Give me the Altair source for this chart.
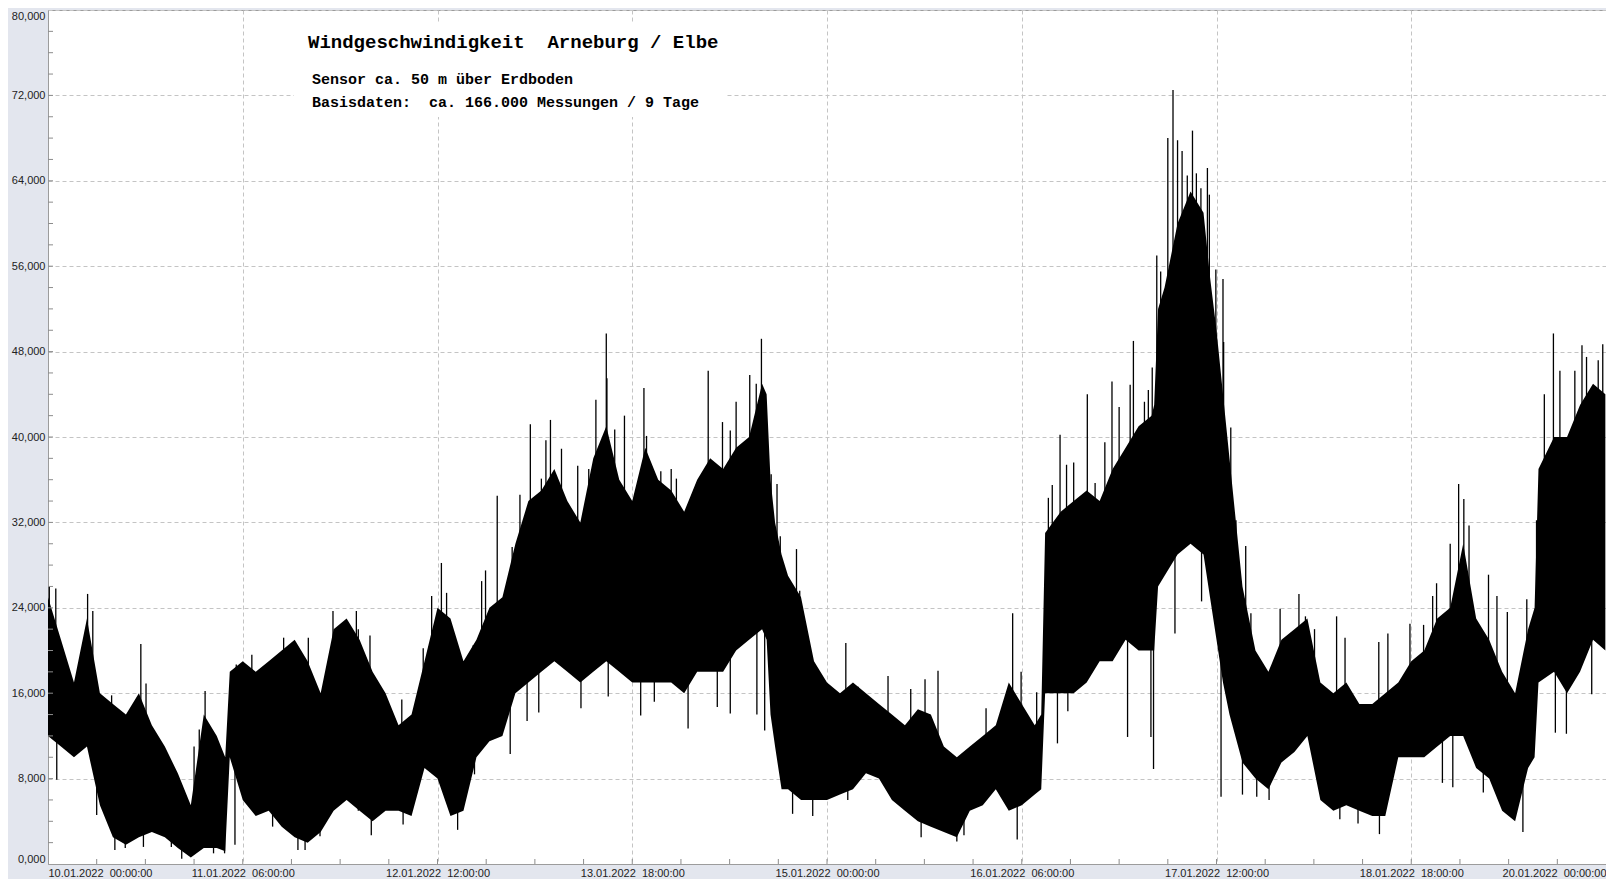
import altair as alt
import pandas as pd
import numpy as np

# ---- envelope of the dense measurement band (hours since 10.01.2022 00:00, km/h)
HOURS = [0, 2, 4, 6, 8, 10, 12, 14, 16, 18, 20, 22, 24, 26, 27.3, 28, 30, 32, 34, 36, 38,
         40, 42, 44, 46, 48, 50, 52, 54, 56, 58, 60, 62, 64, 66, 68, 70, 72, 74, 76, 78,
         80, 82, 84, 86, 88, 90, 92, 94, 96, 98, 100, 102, 104, 106, 108, 110, 110.7, 111.3,
         112, 113, 114, 116, 118, 120, 122, 124, 126, 128, 130, 132, 134, 136, 138, 140,
         142, 144, 146, 148, 150, 152, 153, 153.6, 156, 158, 160, 162, 164, 166, 168, 170,
         170.4, 171, 172, 174, 176, 178, 179, 180, 181, 182, 184, 186, 188, 190, 192, 194,
         196, 198, 200, 202, 204, 206, 208, 210, 212, 214, 216, 218, 220, 222, 224, 226, 228,
         229, 229.6, 232, 234, 236, 238, 239.9]
HI = [25, 21, 17, 23, 16, 15, 14, 16, 13, 11, 8.5, 5.5, 14, 12, 10, 18, 19, 18, 19, 20, 21,
      19, 16, 22, 23, 21, 18, 16, 13, 14, 19, 24, 23, 19, 21, 24, 25, 30, 34, 35, 37,
      34, 32, 38, 41, 36, 34, 39, 36, 35, 33, 36, 38, 37, 39, 40, 45, 44, 36,
      32, 29, 27, 25, 19, 17, 16, 17, 16, 15, 14, 13, 14.5, 14, 11, 10,
      11, 12, 13, 17, 15, 13, 14, 31, 33, 34, 35, 34, 37, 39, 41, 42,
      43, 52, 54, 60, 63, 61, 55, 50, 44, 38, 26, 20, 18, 21, 22, 23,
      17, 16, 17, 15, 15, 16, 17, 19, 20, 23, 24, 30, 23, 21, 18, 16, 22,
      24, 37, 40, 40, 43, 45, 44]
LO = [12, 11, 10, 11, 5.5, 2.5, 1.8, 2.5, 3, 2.5, 1.5, 0.6, 1.5, 1.5, 1.2, 10, 6, 4.5, 5, 3.5, 2.5,
      2, 3, 5, 6, 5, 4, 5, 5, 4.5, 9, 8, 4.5, 5, 10, 11.5, 12, 16, 17, 18, 19,
      18, 17, 18, 19, 18, 17, 17, 17, 17, 16, 18, 18, 18, 20, 21, 22, 21, 14,
      11, 7, 7, 6, 6, 6, 6.5, 7, 8.5, 8, 6, 5, 4, 3.5, 3, 2.5,
      5, 5.5, 7, 5, 5.5, 6.5, 7, 16, 16, 16, 17, 19, 19, 21, 20, 20,
      20, 26, 27, 29, 30, 29, 25, 21, 17, 14, 9.5, 8, 7, 9.5, 10.5, 12,
      6, 5, 5.5, 5, 4.5, 4.5, 10, 10, 10, 11, 12, 12, 9, 8, 5, 4, 9,
      10, 17, 18, 16, 18, 21, 20]

# ---- single upward spikes (hour, km/h)
UP_T = [0.2, 1.2, 6.1, 6.9, 9.8, 14.3, 15.1, 22.5, 23.3, 24.2, 29.0, 31.4, 36.3, 40.1, 43.9, 46.0, 47.5,
        47.8, 49.6, 54.5, 57.8, 59.1, 60.6, 61.4, 65.5, 66.8, 67.4, 69.2, 71.5, 72.7, 74.3, 76.0,
        76.7, 77.4, 79.1, 81.6, 83.3, 84.4, 86.0, 86.1, 87.3, 88.8, 91.8, 92.2, 94.4, 96.0,
        96.8, 99.9, 101.7, 103.9, 105.1, 106.0, 106.9, 108.1, 109.1, 109.9, 111.4, 112.3, 112.8,
        115.3, 115.8, 116.8, 118.6, 122.9, 124.8, 129.4, 132.9, 135.1, 137.1, 144.5,
        148.6, 149.9, 152.3, 154.1, 154.7, 155.9, 156.9, 158.0, 160.1, 161.3, 162.8, 163.9, 165.0,
        166.7, 167.2, 168.9, 169.5, 170.1, 170.8, 171.4, 172.5, 173.3, 174.0, 174.7, 175.5, 176.3,
        176.9, 177.6, 178.6, 178.9, 179.9, 181.0, 181.1, 182.2, 183.0, 184.5, 185.3, 189.8, 192.7,
        193.7, 195.1, 198.5, 199.8, 205.0, 206.4, 209.8, 211.9, 213.3, 213.9, 216.0, 217.3, 218.1,
        218.9, 221.9, 223.2, 224.8, 227.8, 229.3, 230.5, 231.9, 232.9, 235.2, 236.3, 237.0, 238.8, 239.5]
UP_V = [26, 25.8, 25.3, 23.7, 15.8, 20.6, 16.9, 11, 12.6, 16.2, 18.7, 19.6, 21.2, 21.2, 23.7, 22.3, 23.7,
        22, 21.4, 15.4, 20.2, 25.1, 28.2, 25.4, 20.5, 26.5, 27.5, 34.5, 29.7, 34.6, 41.2, 36.1,
        39.7, 41.6, 38.9, 37.3, 37, 43.5, 49.7, 45.5, 40.7, 42, 44.6, 40.1, 36.8, 37,
        36.1, 35.6, 46.2, 41.4, 40.6, 43.3, 39, 45.8, 45, 49.2, 36.5, 35.6, 30.7,
        29.5, 25.6, 20.7, 17.4, 20.7, 16.6, 17.6, 16.4, 17.3, 18.1, 14.6,
        23.5, 18, 16.1, 34.3, 35.5, 40.2, 37.4, 37.6, 44, 35.7, 39.5, 45.2, 42.8,
        44.9, 49, 43.3, 44.4, 46.5, 57, 55.5, 68, 72.5, 67.8, 66.8, 64.5, 68.7,
        64.7, 63.3, 65.2, 62.7, 55.7, 54.8, 48.9, 40.9, 32.2, 29.8, 23.5, 23.9, 25.3,
        23.2, 22, 23.2, 21.2, 20.8, 21.6, 22.5, 22.4, 25.1, 26.3, 30, 35.6, 34.2,
        31.7, 27.1, 25.1, 23.6, 24.8, 32.2, 44, 49.7, 46.2, 46.2, 48.6, 47.5, 47.2, 48.7]

# ---- single downward spikes (hour, km/h)
DN_T = [1.35, 7.5, 10.3, 11.9, 14.7, 19.0, 20.6, 25.5, 27.2, 28.8, 34.6, 38.5, 39.6, 41.9, 47.8,
        49.8, 54.7, 63.1, 65.7, 71.2, 73.8, 75.6, 82.1, 86.3, 91.3, 93.4,
        98.6, 103.1, 105.1, 109.2, 110.4, 114.7, 117.8, 123.2, 134.5, 140.0, 141.1,
        149.3, 155.5, 157.1, 166.3, 169.9, 170.3, 173.6, 177.7, 180.7, 184.0, 186.2, 188.1,
        193.2, 199.0, 201.8, 205.1, 214.8, 216.4, 221.1, 227.2, 232.2, 233.9, 237.8]
DN_V = [7.9, 4.6, 1.3, 1.5, 1.6, 1.6, 0.5, 1, 1, 1.8, 3.5, 1.3, 1.3, 2.6, 5,
        2.7, 3.7, 3.2, 8.4, 10.3, 13.4, 14.2, 14.6, 15.7, 13.9, 15.2,
        12.7, 14.7, 14.1, 14, 12.5, 4.7, 4.5, 6, 2.5, 2.1, 2.7,
        2.3, 11.3, 14.3, 11.9, 11.9, 8.9, 21.6, 24.6, 6.3, 6.5, 6.3, 6,
        12, 4.2, 3.8, 2.8, 7.6, 7.2, 6.7, 3, 12.3, 12.2, 15.9]

# ---- axis values
X_MAJOR = [0, 30, 60, 90, 120, 150, 180, 210, 240]
X_MINOR = [7.5 * i for i in range(1, 32)]
Y_MAJOR = [0, 8, 16, 24, 32, 40, 48, 56, 64, 72, 80]
Y_MINOR = list(range(2, 80, 2))

TITLE = "Windgeschwindigkeit\u00a0\u00a0Arneburg / Elbe"
LINE1 = "Sensor ca. 50 m über Erdboden"
LINE2 = "Basisdaten:\u00a0\u00a0ca. 166.000 Messungen / 9 Tage"

assert len(HI) == len(HOURS) == len(LO)

W, H = 1558, 854
mid = (np.array(HI) + np.array(LO)) / 2.0

body = pd.DataFrame({"h": HOURS, "hi": HI, "lo": LO})
up = pd.DataFrame({"t": UP_T, "v": UP_V})
up["base"] = np.interp(up["t"], HOURS, mid)
dn = pd.DataFrame({"t": DN_T, "v": DN_V})
dn["base"] = np.interp(dn["t"], HOURS, mid)

xscale = alt.Scale(domain=[0, 240], nice=False, zero=False)
yscale = alt.Scale(domain=[0, 80], nice=False, zero=False)

lab = dict(labelFont="Liberation Sans", labelFontSize=11, labelColor="#222222",
           domainColor="#9c9c9c", gridColor="#c4c4c4", gridDash=[4, 3], gridWidth=1,
           ticks=False, title=None, labelFlush=True)

xaxis = alt.Axis(values=X_MAJOR, grid=True, labelPadding=3,
                 labelExpr="utcFormat(datum.value * 3600000 + 1641772800000, '%d.%m.%Y\u00a0\u00a0%H:%M:%S')",
                 **lab)
yaxis = alt.Axis(values=Y_MAJOR, grid=True, labelPadding=3,
                 labelExpr="replace(format(datum.value, '.3f'), '.', ',')", **lab)

area = alt.Chart(body).mark_area(color="black", interpolate="linear", opacity=1).encode(
    x=alt.X("h:Q", scale=xscale, axis=xaxis),
    y=alt.Y("hi:Q", scale=yscale, axis=yaxis),
    y2="lo:Q",
)
upr = alt.Chart(up).mark_rule(color="black", strokeWidth=1.3).encode(
    x=alt.X("t:Q", scale=xscale, axis=xaxis),
    y=alt.Y("v:Q", scale=yscale, axis=yaxis),
    y2="base:Q",
)
dnr = alt.Chart(dn).mark_rule(color="black", strokeWidth=1.3).encode(
    x=alt.X("t:Q", scale=xscale, axis=xaxis),
    y=alt.Y("v:Q", scale=yscale, axis=yaxis),
    y2="base:Q",
)

ymin = alt.Chart(pd.DataFrame({"v": Y_MINOR})).mark_rule(color="#8c8c8c").encode(
    x=alt.value(0), x2=alt.value(5),
    y=alt.Y("v:Q", scale=yscale, axis=yaxis),
)
xmin = alt.Chart(pd.DataFrame({"t": X_MINOR})).mark_rule(color="#8c8c8c").encode(
    x=alt.X("t:Q", scale=xscale, axis=xaxis),
    y=alt.value(H), y2=alt.value(H - 5),
)

box = alt.Chart(pd.DataFrame({"a": [0]})).mark_rect(color="white").encode(
    x=alt.value(246), x2=alt.value(679), y=alt.value(13), y2=alt.value(107)
)
t1 = alt.Chart(pd.DataFrame({"s": [TITLE]})).mark_text(
    font="Liberation Mono", fontWeight="bold", fontSize=19, align="left",
    baseline="alphabetic", color="black").encode(
    x=alt.value(260), y=alt.value(38), text="s:N")
t2 = alt.Chart(pd.DataFrame({"s": [LINE1]})).mark_text(
    font="Liberation Mono", fontWeight="bold", fontSize=15, align="left",
    baseline="alphabetic", color="black").encode(
    x=alt.value(264), y=alt.value(74), text="s:N")
t3 = alt.Chart(pd.DataFrame({"s": [LINE2]})).mark_text(
    font="Liberation Mono", fontWeight="bold", fontSize=15, align="left",
    baseline="alphabetic", color="black").encode(
    x=alt.value(264), y=alt.value(97), text="s:N")

chart = alt.layer(area, upr, dnr, ymin, xmin, box, t1, t2, t3).properties(
    width=W, height=H,
    autosize=alt.AutoSizeParams(type="none"),
    padding={"left": 40, "top": 2, "right": 0, "bottom": 15},
    background="#e3e6ee",
).configure_view(
    fill="white", stroke="#9c9c9c", strokeWidth=1
)

chart.save("out.html", embed_options={"renderer": "svg", "actions": False})
